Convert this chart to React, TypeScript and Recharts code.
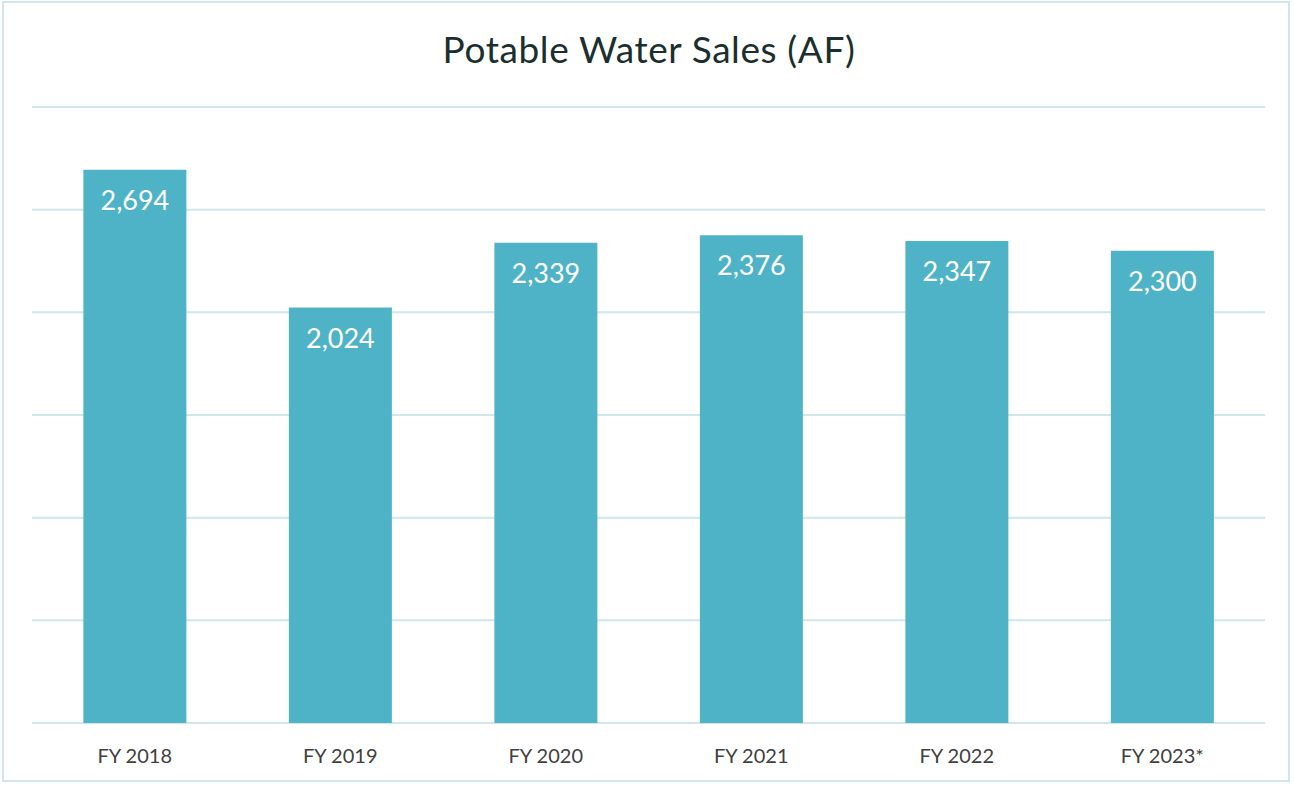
import { BarChart, Bar, XAxis, YAxis, CartesianGrid, LabelList } from "recharts";

const years = ["FY 2018", "FY 2019", "FY 2020", "FY 2021", "FY 2022", "FY 2023*"];
const sales = [2694, 2024, 2339, 2376, 2347, 2300];
const yTicks = [0, 500, 1000, 1500, 2000, 2500, 3000];

const BAR = "#4fb3c7";
const GRID = "#cfe6ea";
const FONT = "Lato, 'Open Sans', sans-serif";

export default function App() {
  const data = years.map((y, i) => ({ year: y, sales: sales[i] }));
  return (
    <div
      style={{
        position: "absolute",
        left: 0,
        top: 0,
        width: 1294,
        height: 786,
        background: "#fff",
        fontFamily: FONT,
      }}
    >
      <div
        style={{
          position: "absolute",
          left: 2,
          top: 1,
          width: 1288,
          height: 781,
          border: `2px solid ${GRID}`,
          boxSizing: "border-box",
        }}
      />
      <div
        style={{
          position: "absolute",
          left: 0,
          top: 26,
          width: 1298,
          textAlign: "center",
          fontSize: 37,
          color: "#1a2f2e",
          letterSpacing: 0.6,
        }}
      >
        Potable Water Sales (AF)
      </div>
      <div style={{ position: "absolute", left: 0, top: 0 }}>
        <BarChart
          width={1294}
          height={786}
          data={data}
          margin={{ top: 107, right: 29, bottom: 23, left: 32 }}
          barCategoryGap="25%"
        >
          <CartesianGrid vertical={false} stroke={GRID} strokeWidth={2} />
          <XAxis
            dataKey="year"
            axisLine={false}
            tickLine={false}
            height={40}
            tick={{ fill: "#404040", fontSize: 20, fontFamily: FONT }}
            tickMargin={20}
          />
          <YAxis
            width={0}
            domain={[0, 3000]}
            ticks={yTicks}
            tick={{ fill: "transparent", fontSize: 1 }}
            axisLine={false}
            tickLine={false}
          />
          <Bar dataKey="sales" fill={BAR} isAnimationActive={false}>
            <LabelList
              dataKey="sales"
              position="insideTop"
              offset={21}
              fill="#ffffff"
              fontSize={27}
              fontFamily={FONT}
              formatter={(v: unknown) => Number(v).toLocaleString("en-US")}
            />
          </Bar>
        </BarChart>
      </div>
    </div>
  );
}
